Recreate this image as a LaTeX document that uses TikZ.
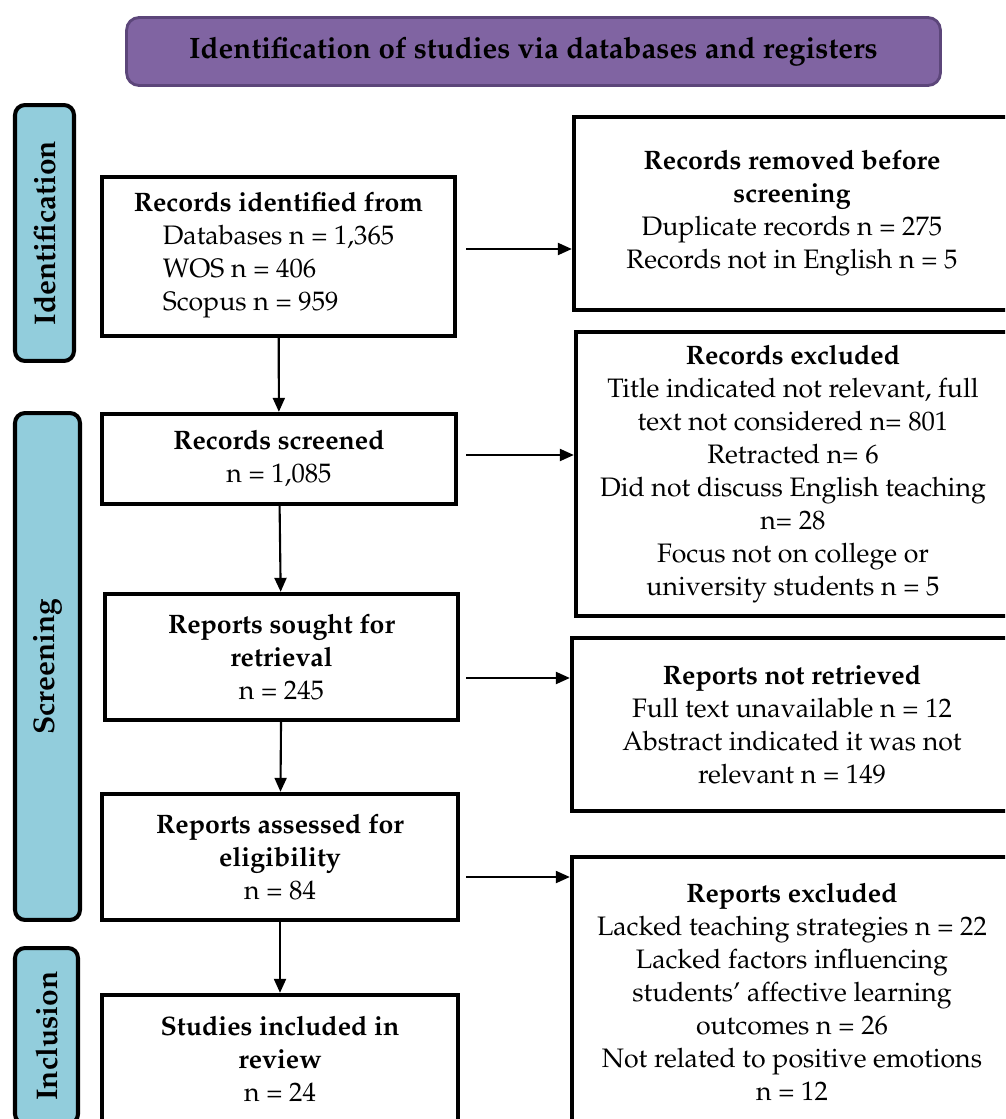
\documentclass[tikz,border=0pt]{standalone}
\usepackage[T1]{fontenc}
\usepackage{mathpazo}
\usepackage{tikz}
\usetikzlibrary{arrows.meta}
\definecolor{phase}{RGB}{146, 205, 220}
\definecolor{banner}{RGB}{128, 100, 162}
\definecolor{bannerline}{RGB}{92, 70, 122}
\tikzset{
    stage/.style={draw, line width=2.5pt, fill=white, align=center, inner sep=2pt, font=\fontsize{15.2}{18.8}\selectfont},
    phasebar/.style={draw, line width=2.3pt, fill=phase, rounded corners=0.2cm, rotate=90, font=\fontsize{17}{20}\selectfont\bfseries},
    flow/.style={-{Triangle[length=0.28cm, width=0.24cm]}, line width=1.2pt}
}

\begin{document}
\begin{tikzpicture}[x=0.02cm, y=-0.02cm]
    \useasboundingbox (0,0) rectangle (1005,1119);
    \clip (0,0) rectangle (1005,1119);

    \node[draw=bannerline, line width=1.6pt, fill=banner, rounded corners=0.25cm, minimum width=16.28cm, minimum height=1.36cm, font=\fontsize{16.8}{19}\selectfont\bfseries] (banner) at (533.5,51.5) {Identification of studies via databases and registers};

    \node[phasebar, minimum width=5.12cm, minimum height=1.18cm] (idbar) at (44.5,233) {Identification};
    \node[phasebar, minimum width=10.14cm, minimum height=1.3cm] (scbar) at (47.5,666.5) {Screening};
    \node[phasebar, minimum width=3.52cm, minimum height=1.26cm] (inbar) at (46.5,1036) {Inclusion};

    \node[stage, minimum width=7.06cm, minimum height=3.18cm] (rid) at (278.5,256.5) {\textbf{Records identified from}\\
        \begin{tabular}[t]{@{}l@{}}Databases n = 1,365\\ WOS n = 406\\ Scopus n = 959\end{tabular}};
    \node[stage, minimum width=7.08cm, minimum height=1.8cm] (rscr) at (279,459) {\textbf{Records screened}\\ n = 1,085};
    \node[stage, minimum width=7.06cm, minimum height=2.52cm] (rsou) at (281.5,657) {\textbf{Reports sought for}\\ \textbf{retrieval}\\ n = 245};
    \node[stage, minimum width=7.12cm, minimum height=2.52cm] (rass) at (280,857) {\textbf{Reports assessed for}\\ \textbf{eligibility}\\ n = 84};
    \node[stage, minimum width=7.12cm, minimum height=2.54cm] (sinc) at (280,1058.5) {\textbf{Studies included in}\\ \textbf{review}\\ n = 24};

    \node[stage, minimum width=8.72cm, minimum height=3.86cm] (rrem) at (792,213.5) {\textbf{Records removed before}\\ \textbf{screening}\\ Duplicate records n = 275\\ Records not in English n = 5};
    \node[stage, minimum width=8.68cm, minimum height=5.68cm] (rexc) at (793,474) {\textbf{Records excluded}\\ Title indicated not relevant, full\\ text not considered n= 801\\ Retracted n= 6\\ Did not discuss English teaching\\ n= 28\\ Focus not on college or\\ university students n = 5};
    \node[stage, minimum width=8.8cm, minimum height=3.46cm] (rnot) at (792,724.5) {\textbf{Reports not retrieved}\\ Full text unavailable n = 12\\ Abstract indicated it was not\\ relevant n = 149};
    \node[stage, minimum width=8.8cm, minimum height=5.4cm] (repx) at (792,992) {\textbf{Reports excluded}\\ Lacked teaching strategies n = 22\\ Lacked factors influencing\\ students' affective learning\\ outcomes n = 26\\ Not related to positive emotions\\ n = 12};

    \draw[flow] (rid) -- (rscr);
    \draw[flow] (rscr) -- (rsou);
    \draw[flow] (rsou) -- (rass);
    \draw[flow] (rass) -- (sinc);

    \coordinate (h1) at ([shift={(9,-7.5)}]rid.east);
    \coordinate (h2) at ([shift={(8,-4)}]rscr.east);
    \coordinate (h3) at ([shift={(6,21)}]rsou.east);
    \coordinate (h4) at ([shift={(6,20)}]rass.east);
    \draw[flow] (h1) -- (h1 -| rrem.west);
    \draw[flow] (h2) -- (h2 -| rexc.west);
    \draw[flow] (h3) -- (h3 -| rnot.west);
    \draw[flow] (h4) -- (h4 -| repx.west);
\end{tikzpicture}
\end{document}
